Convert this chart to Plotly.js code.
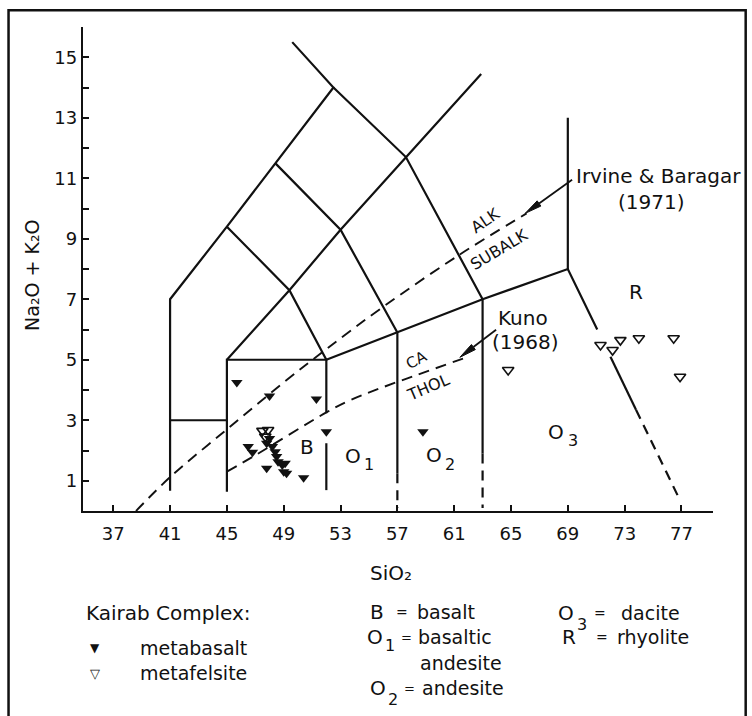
<!DOCTYPE html>
<html><head><meta charset="utf-8">
<script src="https://cdn.plot.ly/plotly-3.0.1.min.js"></script>
<style>html,body{margin:0;padding:0;background:#fff}#chart{width:752px;height:716px}</style>
</head><body><div id="chart"></div>
<script>
// ---- data ----
const metabasaltSiO2 = [45.7, 48.0, 51.3, 52.0, 46.5, 46.8, 47.8, 48.0, 48.2, 48.4, 48.5, 48.6, 48.9, 49.1, 49.0, 49.2, 47.8, 50.4, 58.8];
const metabasaltAlk  = [4.25, 3.80, 3.70, 2.62, 2.13, 1.94, 2.24, 2.40, 2.13, 1.96, 1.80, 1.63, 1.52, 1.58, 1.30, 1.25, 1.41, 1.10, 2.62];
const metafelsiteSiO2 = [47.5, 47.9, 47.7, 64.8, 71.3, 72.15, 72.7, 74.0, 76.45, 76.9];
const metafelsiteAlk  = [2.65, 2.68, 2.46, 4.66, 5.49, 5.32, 5.65, 5.71, 5.71, 4.44];

const xTickVals = [37, 41, 45, 49, 53, 57, 61, 65, 69, 73, 77];
const yTickVals = [1, 3, 5, 7, 9, 11, 13, 15];
const yMinorTickVals = [2, 4, 6, 8, 10, 12, 14, 16];

// field boundaries (solid), segments separated by null
const boundaryX = [41, 41, 45, 48.4, 52.5, 49.6, null,
  45, 45, 52, 52, null,
  52, 52, null,
  41, 45, null,
  45, 49.4, 53, 57.6, 62.9, null,
  45, 49.4, 52, null,
  48.4, 53, 57, null,
  52.5, 57.6, 63, null,
  52, 57, 63, 69, 71.07, null,
  57, 57, null,
  63, 63, null,
  69, 69, null,
  72.0, 73.8];
const boundaryY = [0.67, 7, 9.4, 11.5, 14, 15.5, null,
  0.64, 5, 5, 3.23, null,
  2.24, 0.69, null,
  3, 3, null,
  5, 7.3, 9.3, 11.7, 14.45, null,
  9.4, 7.3, 5, null,
  11.5, 9.3, 5.9, null,
  14, 11.7, 7, null,
  5, 5.9, 7, 8, 6.0, null,
  5.9, 1.25, null,
  7, 1.9, null,
  8, 13, null,
  5.1, 3.35];
// dashed continuations of boundaries
const dashedX = [57, 57, null, 63, 63, null, 73.8, 76.8];
const dashedY = [1.25, 0.1, null, 1.9, 0.1, null, 3.35, 0.45];

// Irvine & Baragar (1971) alkaline / subalkaline divide
const irvineX = [38.6, 41, 45, 49, 52, 56, 61.3, 66.1];
const irvineY = [0, 1.12, 2.7, 4.25, 5.35, 6.75, 8.45, 9.84];
// Kuno (1968) calc-alkaline / tholeiite divide
const kunoX = [45, 46.85, 52, 53.7, 55.8, 62];
const kunoY = [1.3, 1.8, 3.26, 3.67, 4.06, 5.1];

// pointer arrows: [tail, tip]
const irvineArrowX = [69.3, 66.0];
const irvineArrowY = [10.95, 9.84];
const kunoArrowX = [63.95, 61.4];
const kunoArrowY = [5.99, 5.08];

// ---- plot geometry ----
const PL = 83, PT = 27.2, PR = 38.7, PB = 205;
const W = 752, H = 716;
const PW = W - PL - PR, PH = H - PT - PB;
const XR = [34.87, 79.22], YR = [0, 16];
const SX = PW / (XR[1] - XR[0]), SY = PH / (YR[1] - YR[0]);
const FONT = 'DejaVu Sans';
const INK = '#111';
function px(x) { return (x - PL) / PW; }
function py(y) { return (H - PB - y) / PH; }
function txt(x, y, text, size, anchor, extra) {
  return Object.assign({xref: 'paper', yref: 'paper', x: px(x), y: py(y), text: text,
    showarrow: false, xanchor: anchor || 'center', yanchor: 'middle',
    font: {family: FONT, size: size || 19, color: INK}}, extra || {});
}
function dtxt(x, y, text, size, angle) {
  return {xref: 'x', yref: 'y', x: x, y: y, text: text, showarrow: false,
    xanchor: 'center', yanchor: 'middle', textangle: angle || 0,
    font: {family: FONT, size: size || 19, color: INK}};
}
// letter with a large lowered index digit (as in the hand lettering)
function oSub(cx, cy, digit, dcx, dcy) {
  return [txt(cx, cy, 'O', 20, 'center', {borderpad: 0}), txt(dcx, dcy, digit, 16, 'center', {borderpad: 0})];
}
// arrow (shaft + narrow dart head) built from tail/tip data arrays
function arrowShapes(ax, ay) {
  const tx = ax[0], ty = ay[0], hx = ax[1], hy = ay[1];
  const dxp = (hx - tx) * SX, dyp = (hy - ty) * SY;
  const L = Math.hypot(dxp, dyp), ux = dxp / L, uy = dyp / L;
  const headLen = 17, halfW = 3.2;
  const bx = hx - ux * headLen / SX, by = hy - uy * headLen / SY;
  const nx = -uy, ny = ux;
  const p1x = bx + nx * halfW / SX, p1y = by + ny * halfW / SY;
  const p2x = bx - nx * halfW / SX, p2y = by - ny * halfW / SY;
  return [
    {type: 'line', xref: 'x', yref: 'y', x0: tx, y0: ty, x1: bx, y1: by, line: {color: INK, width: 1.8}},
    {type: 'path', xref: 'x', yref: 'y', path: `M ${hx},${hy} L ${p1x},${p1y} L ${p2x},${p2y} Z`,
      fillcolor: INK, line: {color: INK, width: 1}}
  ];
}

const traces = [
  {x: boundaryX, y: boundaryY, mode: 'lines', line: {color: INK, width: 2.2}, connectgaps: false, hoverinfo: 'skip'},
  {x: dashedX, y: dashedY, mode: 'lines', line: {color: INK, width: 2.2, dash: '10px,7px'}, connectgaps: false, hoverinfo: 'skip'},
  {x: irvineX, y: irvineY, mode: 'lines', line: {color: INK, width: 1.9, dash: '11px,7px', shape: 'spline'}, hoverinfo: 'skip'},
  {x: kunoX, y: kunoY, mode: 'lines', line: {color: INK, width: 1.9, dash: '11px,7px', shape: 'spline'}, hoverinfo: 'skip'},
  {x: metabasaltSiO2, y: metabasaltAlk, mode: 'markers', name: 'metabasalt',
    marker: {symbol: 'triangle-down', size: 10, color: INK}, cliponaxis: false},
  {x: metafelsiteSiO2, y: metafelsiteAlk, mode: 'markers', name: 'metafelsite',
    marker: {symbol: 'triangle-down-open', size: 10, color: INK, line: {width: 1.6, color: INK}}, cliponaxis: false}
];

const axisCommon = {showline: true, linewidth: 2.2, linecolor: INK, ticks: 'inside', ticklen: 6, tickwidth: 2,
  tickcolor: INK, showgrid: false, zeroline: false, tickfont: {family: FONT, size: 18, color: INK}};

const annotations = [
  // axis titles
  txt(32, 276, 'Na\u2082O + K\u2082O', 19, 'center', {textangle: -90}),
  txt(391, 573, 'SiO\u2082', 20),
  // field labels
  dtxt(50.67, 2.13, 'B', 20),
  dtxt(73.8, 7.25, 'R', 20),
  ...oSub(353, 456, '1', 369, 465),
  ...oSub(434, 455, '2', 450, 465),
  ...oSub(556, 432, '3', 573, 441),
  dtxt(63.2, 9.6, 'ALK', 16, -34),
  dtxt(64.15, 8.66, 'SUBALK', 16, -31),
  dtxt(58.35, 4.98, 'CA', 15, -28),
  dtxt(59.13, 4.08, 'THOL', 16, -23),
  // references
  txt(574, 176, 'Irvine &amp; Baragar', 20, 'left'),
  txt(652, 202, '(1971)', 20),
  txt(496, 318, 'Kuno', 20, 'left'),
  txt(526, 342, '(1968)', 20),
  // legend block
  txt(84, 613, 'Kairab Complex:', 20, 'left'),
  txt(95, 648, '\u25BC', 12),
  txt(138, 648, 'metabasalt', 19, 'left'),
  txt(95, 673, '\u25BD', 13),
  txt(138, 673, 'metafelsite', 19, 'left'),
  txt(368, 612, 'B', 20, 'left'),
  txt(394, 612, '=', 14, 'left'),
  txt(415, 612, 'basalt', 19, 'left'),
  ...oSub(375, 637, '1', 390, 645),
  txt(399, 637, '=', 13, 'left'),
  txt(416, 637, 'basaltic', 19, 'left'),
  txt(418, 663, 'andesite', 19, 'left'),
  ...oSub(378, 688, '2', 393, 699),
  txt(402, 688, '=', 13, 'left'),
  txt(420, 688, 'andesite', 19, 'left'),
  ...oSub(566, 613, '3', 582, 624),
  txt(592, 613, '=', 14, 'left'),
  txt(619, 613, 'dacite', 19, 'left'),
  txt(560, 637, 'R', 20, 'left'),
  txt(594, 637, '=', 14, 'left'),
  txt(615, 637, 'rhyolite', 19, 'left')
];

const layout = {
  width: W, height: H,
  margin: {l: PL, r: PR, t: PT, b: PB, pad: 0},
  paper_bgcolor: '#fff', plot_bgcolor: '#fff',
  showlegend: false,
  font: {family: FONT, color: INK},
  xaxis: Object.assign({}, axisCommon, {range: XR, tickvals: xTickVals, tickmode: 'array', ticklabelstandoff: 5}),
  yaxis: Object.assign({}, axisCommon, {range: YR, tickvals: yTickVals, tickmode: 'array',
    minor: {tickmode: 'array', tickvals: yMinorTickVals, ticks: 'inside', ticklen: 6, tickwidth: 2, tickcolor: INK, showgrid: false}}),
  annotations: annotations,
  shapes: [
    {type: 'rect', xref: 'paper', yref: 'paper', x0: px(8.5), x1: px(746), y0: py(740), y1: py(10.5),
      line: {color: INK, width: 2.5}, fillcolor: 'rgba(0,0,0,0)'}
  ].concat(arrowShapes(irvineArrowX, irvineArrowY), arrowShapes(kunoArrowX, kunoArrowY))
};

Plotly.newPlot('chart', traces, layout, {displayModeBar: false, staticPlot: true});
</script>
</body></html>
